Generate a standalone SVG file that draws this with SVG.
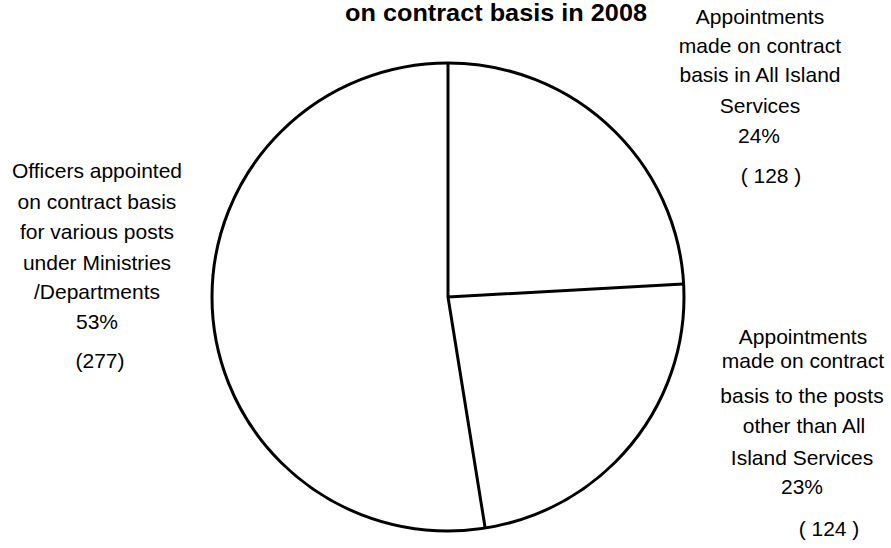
<svg xmlns="http://www.w3.org/2000/svg" width="891" height="548" viewBox="0 0 891 548">
<style>
.t{font-family:"Liberation Sans",Arial,sans-serif;font-size:21px;fill:#000;text-anchor:middle}
.title{font-family:"Liberation Sans",Arial,sans-serif;font-size:24px;font-weight:bold;fill:#000;text-anchor:middle}
.edge{fill:none;stroke:#000;stroke-width:3;stroke-linejoin:round}
</style>
<rect width="891" height="548" fill="#fff"/>
<text class="title" x="496" y="21" textLength="302" lengthAdjust="spacingAndGlyphs">on contract basis in 2008</text>
<g id="pie">
<ellipse cx="448" cy="297" rx="236" ry="234" fill="#fff" stroke="#000" stroke-width="3"/>
</g>
<g id="connectors">
<path class="edge" d="M448 63 L448 297 L683 284 M448 297 L485 527"/>
</g>
<g id="label-all-island">
<text class="t" x="760" y="24">Appointments</text>
<text class="t" x="760" y="53">made on contract</text>
<text class="t" x="760" y="82">basis in All Island</text>
<text class="t" x="760" y="113">Services</text>
<text class="t" x="759" y="143">24%</text>
<text class="t" x="771" y="183">( 128 )</text>
</g>
<g id="label-other-posts">
<text class="t" x="803" y="344">Appointments</text>
<text class="t" x="803" y="368">made on contract</text>
<text class="t" x="802" y="403">basis to the posts</text>
<text class="t" x="804" y="433">other than All</text>
<text class="t" x="802" y="465">Island Services</text>
<text class="t" x="802" y="494">23%</text>
<text class="t" x="829" y="536">( 124 )</text>
</g>
<g id="label-ministries">
<text class="t" x="97" y="178">Officers appointed</text>
<text class="t" x="97" y="209">on contract basis</text>
<text class="t" x="97" y="239">for various posts</text>
<text class="t" x="97" y="270">under Ministries</text>
<text class="t" x="97" y="299">/Departments</text>
<text class="t" x="97" y="329">53%</text>
<text class="t" x="100" y="368">(277)</text>
</g>
</svg>
